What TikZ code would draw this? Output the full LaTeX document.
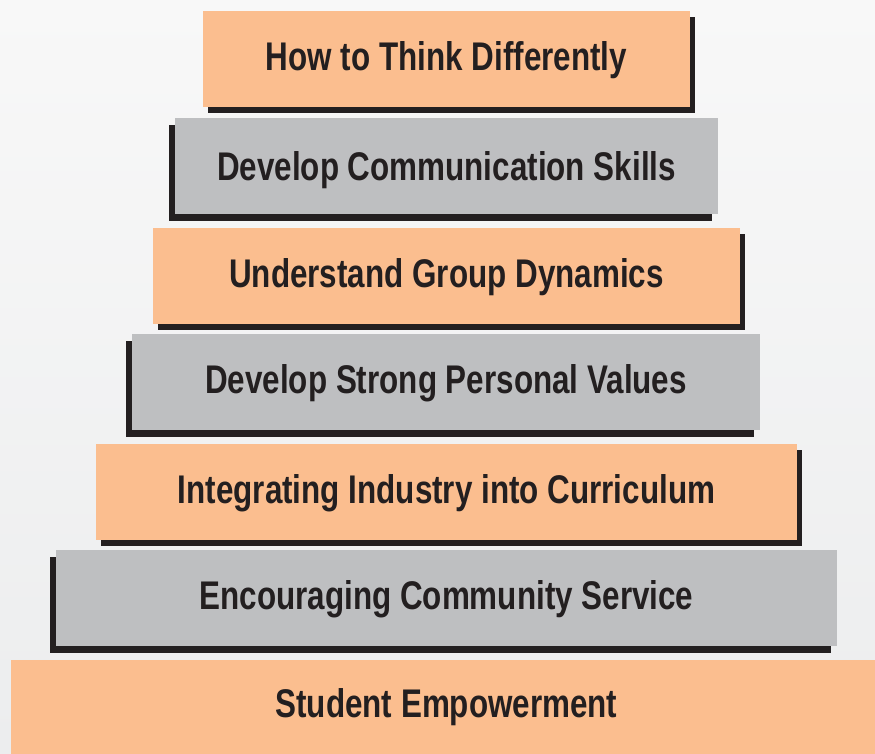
\documentclass[tikz,border=0pt]{standalone}
\usepackage{fontspec}
\setmainfont{Liberation Sans}[FakeStretch=0.785]
\usetikzlibrary{shadows}
\definecolor{pyr_orange}{RGB}{251,190,143}
\definecolor{pyr_grey}{RGB}{190,191,193}
\definecolor{pyr_shadow}{RGB}{35,31,32}
\definecolor{pyr_bgtop}{RGB}{248,248,248}
\definecolor{pyr_bgbot}{RGB}{236,237,238}
\tikzstyle{ob}=[rectangle,fill=pyr_orange,inner sep=0pt,minimum height=96pt,
  general shadow={fill=pyr_shadow,shadow xshift=5pt,shadow yshift=-6pt},
  text height=29pt,text depth=6pt,text=pyr_shadow,
  font=\fontsize{40}{48}\selectfont\bfseries]
\tikzstyle{gb}=[rectangle,fill=pyr_grey,inner sep=0pt,minimum height=96pt,
  general shadow={fill=pyr_shadow,shadow xshift=-6pt,shadow yshift=-7pt},
  text height=29pt,text depth=6pt,text=pyr_shadow,
  font=\fontsize{40}{48}\selectfont\bfseries]

\begin{document}
\begin{tikzpicture}[x=1pt, y=-1pt]
            \useasboundingbox (0,0) rectangle (875,753);
            \clip (0,0) rectangle (875,753);
            \shade [top color=pyr_bgtop, bottom color=pyr_bgbot] (0,0) rectangle (875,753);
            \node [style=ob, minimum width=487pt] (0) at (446.5, 59) {How to Think Differently};
            \node [style=gb, minimum width=543pt, text height=32pt, text depth=3pt] (1) at (446.5, 165.5) {Develop Communication Skills};
            \node [style=ob, minimum width=587pt] (2) at (446.5, 275.5) {Understand Group Dynamics};
            \node [style=gb, minimum width=628pt] (3) at (446, 381.5) {Develop Strong Personal Values};
            \node [style=ob, minimum width=701pt] (4) at (446.5, 492) {Integrating Industry into Curriculum};
            \node [style=gb, minimum width=781pt] (5) at (446.5, 598) {Encouraging Community Service};
            \node [style=ob, minimum width=871pt, text height=27pt, text depth=8pt] (6) at (446.5, 708) {Student Empowerment};
\end{tikzpicture}
\end{document}
